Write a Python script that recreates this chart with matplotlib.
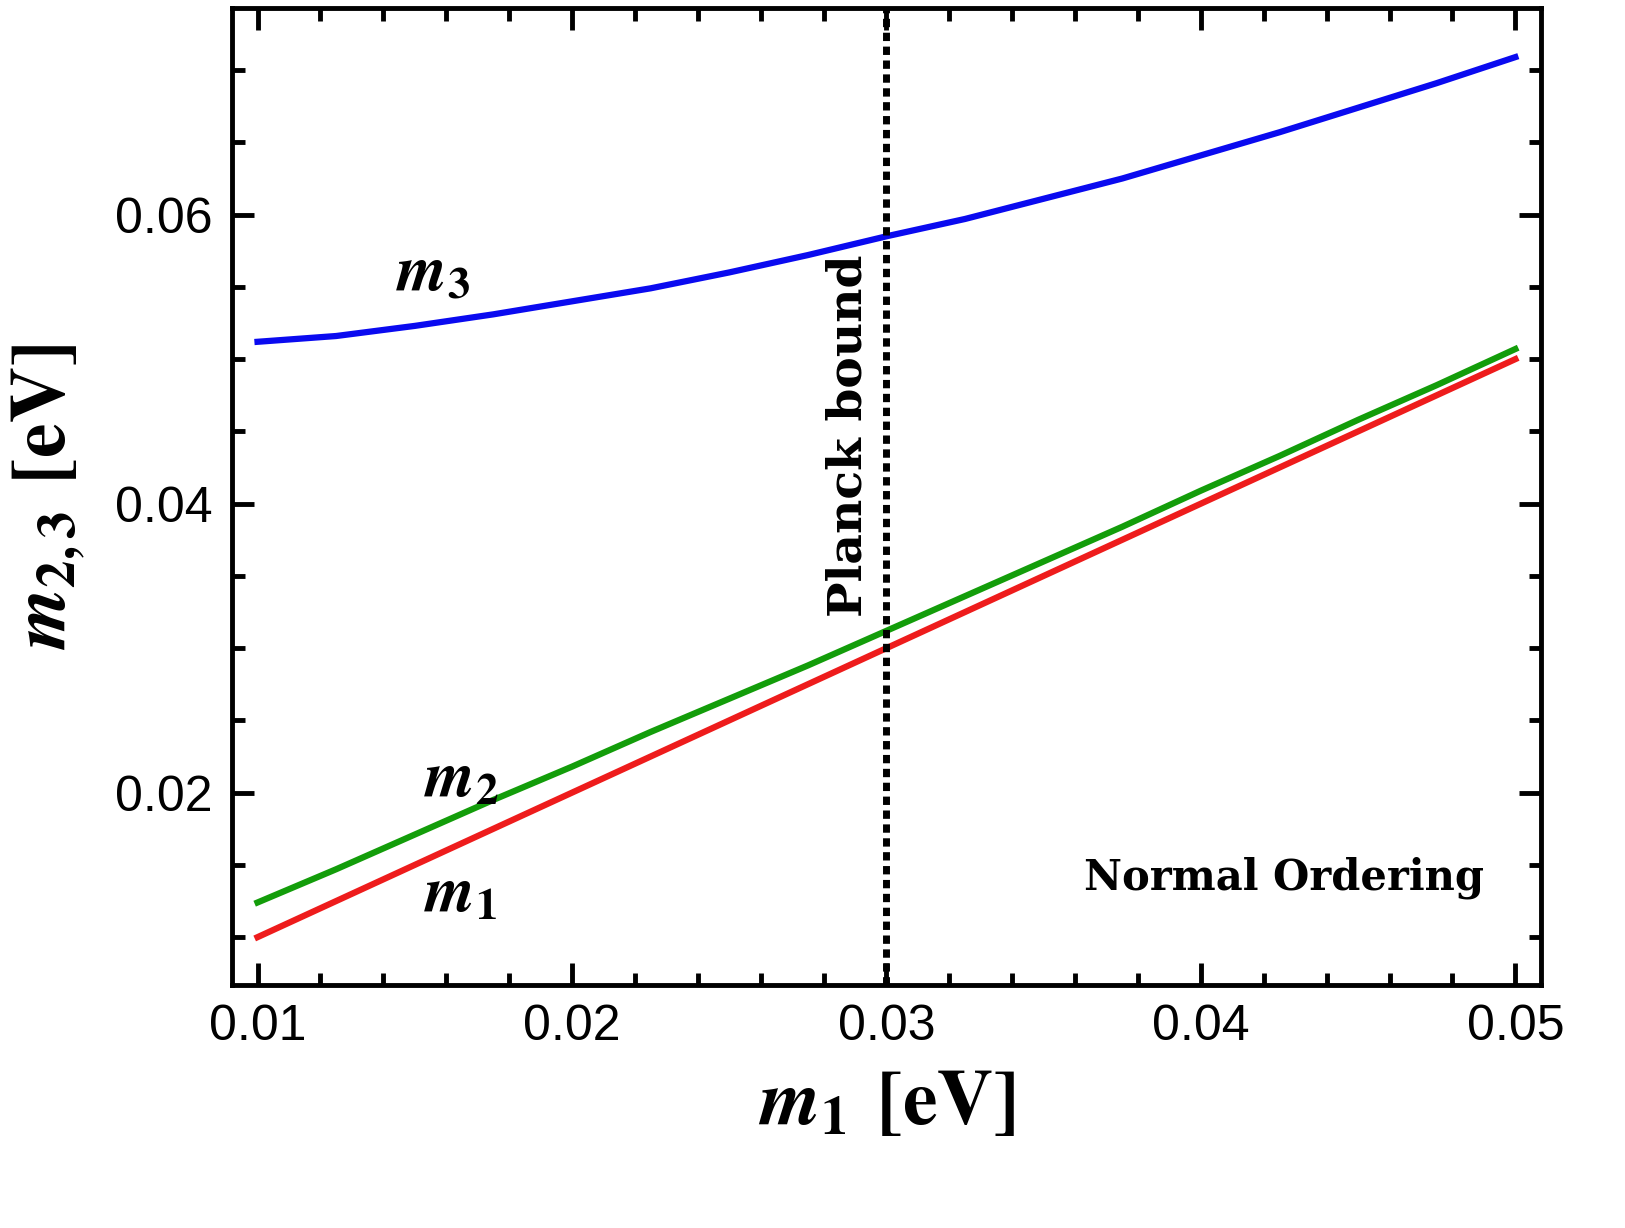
import matplotlib
matplotlib.use("Agg")
import matplotlib.pyplot as plt
from matplotlib.ticker import MultipleLocator

plt.rcParams['mathtext.fontset'] = 'stix'

m1_vals = [0.01, 0.0125, 0.015, 0.0175, 0.02, 0.0225, 0.025, 0.0275, 0.03,
           0.0325, 0.035, 0.0375, 0.04, 0.0425, 0.045, 0.0475, 0.05]
m2_vals = [0.0124, 0.0147, 0.0171, 0.0195, 0.0218, 0.0242, 0.0265, 0.0288, 0.0312,
           0.0336, 0.0360, 0.0384, 0.0409, 0.0433, 0.0458, 0.0482, 0.0507]
m3_vals = [0.0512, 0.0516, 0.0523, 0.0531, 0.0540, 0.0549, 0.0560, 0.0572, 0.0585,
           0.0597, 0.0611, 0.0625, 0.0641, 0.0657, 0.0674, 0.0691, 0.0709]
planck = 0.03
xticks = [0.01, 0.02, 0.03, 0.04, 0.05]
yticks = [0.02, 0.04, 0.06]

fig = plt.figure(figsize=(16.25, 12.28), dpi=100)
ax = fig.add_axes([0.143, 0.198, 0.805, 0.7955])
ax.plot(m1_vals, m1_vals, color='#ee1c1c', lw=4.5)
ax.plot(m1_vals, m2_vals, color='#139d0a', lw=4.5)
ax.plot(m1_vals, m3_vals, color='#0a0af0', lw=4.5)
ax.axvline(planck, color='black', lw=5, ls=(0, (1.2, 0.8)))

ax.set_xlim(0.0092, 0.0508)
ax.set_ylim(0.0067, 0.0743)
ax.set_xticks(xticks)
ax.set_yticks(yticks)
ax.set_xticklabels([f"{v:.2f}" for v in xticks])
ax.set_yticklabels([f"{v:.2f}" for v in yticks])
ax.xaxis.set_minor_locator(MultipleLocator(0.002))
ax.yaxis.set_minor_locator(MultipleLocator(0.005))
ax.tick_params(which='both', direction='in', top=True, right=True, width=3.5,
               labelsize=36, pad=14)
ax.tick_params(which='major', length=16)
ax.tick_params(which='minor', length=9)
for lab in ax.get_xticklabels() + ax.get_yticklabels():
    lab.set_family('Liberation Sans')
for s in ax.spines.values():
    s.set_linewidth(3.5)

ax.set_xlabel(r'$\mathbfit{m}_{\mathbf{1}}$ $\mathbf{[eV]}$', fontsize=56, labelpad=10)
ax.set_ylabel(r'$\mathbfit{m}_{\mathbf{2,3}}$ $\mathbf{[eV]}$', fontsize=56, labelpad=20)

ax.text(0.0144, 0.0548, r'$\mathbfit{m}_{\mathbf{3}}$', fontsize=46)
ax.text(0.0153, 0.0197, r'$\mathbfit{m}_{\mathbf{2}}$', fontsize=46)
ax.text(0.0153, 0.0118, r'$\mathbfit{m}_{\mathbf{1}}$', fontsize=46)
ax.text(0.0288, 0.0447, 'Planck bound', rotation=90, fontsize=34, fontweight='bold',
        family='DejaVu Serif', ha='center', va='center')
ax.text(0.0490, 0.0141, 'Normal Ordering', fontsize=30, fontweight='bold',
        family='DejaVu Serif', ha='right', va='center')

fig.savefig('out.png', dpi=100)
